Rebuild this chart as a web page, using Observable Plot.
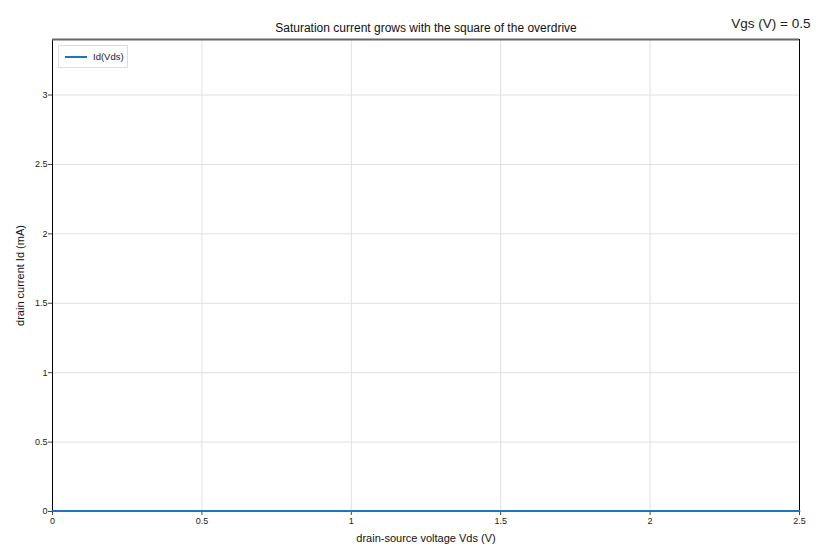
<!DOCTYPE html>
<html>
<head>
<meta charset="utf-8">
<script src="https://cdn.jsdelivr.net/npm/d3@7"></script>
<script src="https://cdn.jsdelivr.net/npm/@observablehq/plot@0.6"></script>
<style>
  body { margin: 0; background: #fff; font-family: "Liberation Sans", Arial, sans-serif; }
  #wrap { position: relative; width: 820px; height: 560px; }
  #legend { position: absolute; left: 58px; top: 45px; width: 68px; height: 21px; border: 1px solid #ddd; background: #fff; font-size: 9.5px; color: #222; display: flex; align-items: center; }
  #legend .sw { display: inline-block; width: 22px; height: 2px; margin-left: 6px; margin-right: 6px; }
</style>
</head>
<body>
<div id="wrap"></div>
<script>
const title = "Saturation current grows with the square of the overdrive";
const sliderLabel = "Vgs (V) = 0.5";
const seriesName = "Id(Vds)";
const xLabel = "drain-source voltage Vds (V)";
const yLabel = "drain current Id (mA)";
const lineColor = "#1f74c2";

// Vgs = 0.5 V is below threshold: drain current stays at zero across the sweep
const vds = [0, 0.25, 0.5, 0.75, 1, 1.25, 1.5, 1.75, 2, 2.25, 2.5];
const idmA = [0, 0, 0, 0, 0, 0, 0, 0, 0, 0, 0];

const xTicks = [0, 0.5, 1, 1.5, 2, 2.5];
const yTicks = [0, 0.5, 1, 1.5, 2, 2.5, 3];
const xMax = 2.5;
const yMax = 3.4;

const data = vds.map((v, i) => ({vds: v, id: idmA[i]}));

const chart = Plot.plot({
  width: 820,
  height: 560,
  marginLeft: 52,
  marginRight: 21,
  marginTop: 39,
  marginBottom: 49,
  style: {fontFamily: "'Liberation Sans', Arial, sans-serif", background: "white", color: "#222"},
  x: {domain: [0, xMax]},
  y: {domain: [0, yMax]},
  marks: [
    Plot.gridX(xTicks, {stroke: "#e0e0e0", strokeOpacity: 1}),
    Plot.gridY(yTicks, {stroke: "#e0e0e0", strokeOpacity: 1}),
    Plot.axisX(xTicks, {tickSize: 4, tickPadding: 2, fontSize: 9, label: null, tickFormat: d => String(d), stroke: "#444"}),
    Plot.axisY(yTicks, {tickSize: 4, tickPadding: 1, fontSize: 9, label: null, tickFormat: d => String(d), stroke: "#444"}),
    Plot.frame({stroke: "black", strokeWidth: 1}),
    Plot.ruleY([yMax], {stroke: "#666", strokeWidth: 2}),
    Plot.line(data, {x: "vds", y: "id", stroke: lineColor, strokeWidth: 2, dy: -0.5}),
    Plot.text([title], {frameAnchor: "top", dy: -16, fontSize: 12, fill: "#111"}),
    Plot.text([sliderLabel], {frameAnchor: "top-right", dx: 11, dy: -21, textAnchor: "end", fontSize: 13.5, fill: "#222"}),
    Plot.text([xLabel], {frameAnchor: "bottom", dy: 30, fontSize: 11, fill: "#111"}),
    Plot.text([yLabel], {frameAnchor: "left", dx: -32, rotate: -90, textAnchor: "middle", fontSize: 11, fill: "#111"})
  ]
});

const wrap = document.getElementById("wrap");
wrap.appendChild(chart);
const legend = document.createElement("div");
legend.id = "legend";
const sw = document.createElement("span");
sw.className = "sw";
sw.style.background = lineColor;
legend.appendChild(sw);
legend.appendChild(document.createTextNode(seriesName));
wrap.appendChild(legend);
</script>
</body>
</html>
